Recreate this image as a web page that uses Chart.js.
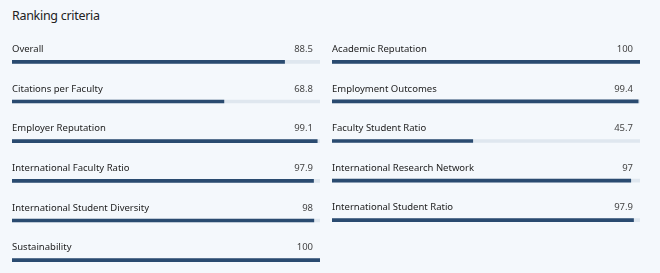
<!DOCTYPE html>
<html>
<head>
<meta charset="utf-8">
<script src="https://cdn.jsdelivr.net/npm/chart.js@4.4.1/dist/chart.umd.min.js"></script>
<style>
    html, body { margin: 0; padding: 0; }
    body {
        width: 660px; height: 273px; overflow: hidden; position: relative;
        background: #f4f8fc; font-family: "Noto Sans", sans-serif;
    }
    #title {
        position: absolute; left: 12px; top: 7px;
        font-size: 12.5px; color: #222; letter-spacing: -0.3px;
    }
    canvas { position: absolute; top: 42px; }
    #leftChart { left: 12px; }
    #rightChart { left: 332px; }
</style>
</head>
<body>
<div id="title">Ranking criteria</div>
<canvas id="leftChart" width="308" height="238"></canvas>
<canvas id="rightChart" width="308" height="198"></canvas>
<script>
// Left column
const leftLabels = ["Overall", "Citations per Faculty", "Employer Reputation",
    "International Faculty Ratio", "International Student Diversity", "Sustainability"];
const leftValues = [88.5, 68.8, 99.1, 97.9, 98, 100];

// Right column
const rightLabels = ["Academic Reputation", "Employment Outcomes", "Faculty Student Ratio",
    "International Research Network", "International Student Ratio"];
const rightValues = [100, 99.4, 45.7, 97, 97.9];

const maxScore = 100;

// draws the criterion name and score above each bar
const rowText = {
    id: "rowText",
    afterDatasetsDraw(chart) {
        const ctx = chart.ctx;
        const area = chart.chartArea;
        const yScale = chart.scales.y;
        const values = chart.data.datasets[0].data;
        ctx.save();
        ctx.font = "9.5px 'Noto Sans', sans-serif";
        ctx.textBaseline = "middle";
        chart.data.labels.forEach((label, i) => {
            const y = yScale.getPixelForValue(i) - 12.5;
            ctx.fillStyle = "#222";
            ctx.textAlign = "left";
            ctx.fillText(label, area.left, y);
            ctx.fillStyle = "#444";
            ctx.textAlign = "right";
            ctx.fillText(String(values[i]), area.right - 7, y);
        });
        ctx.restore();
    }
};

function makeChart(id, labels, values) {
    return new Chart(document.getElementById(id), {
        type: "bar",
        data: {
            labels: labels,
            // first dataset is painted last, so the score sits on top of the track
            datasets: [{
                data: values,
                backgroundColor: "#2a4b70",
                grouped: false,
                barThickness: 3
            }, {
                data: labels.map(() => maxScore),
                backgroundColor: "#dfe7ef",
                grouped: false,
                barThickness: 3
            }]
        },
        options: {
            indexAxis: "y",
            responsive: false,
            animation: false,
            layout: { padding: 0 },
            plugins: { legend: { display: false }, tooltip: { enabled: false } },
            scales: {
                x: { min: 0, max: maxScore, display: false },
                y: { display: false }
            }
        },
        plugins: [rowText]
    });
}

makeChart("leftChart", leftLabels, leftValues);
makeChart("rightChart", rightLabels, rightValues);
</script>
</body>
</html>
